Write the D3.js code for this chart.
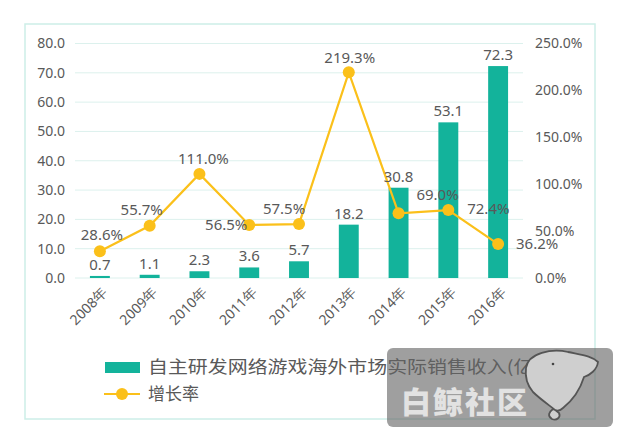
<!DOCTYPE html>
<html><head><meta charset="utf-8">
<script src="https://cdn.jsdelivr.net/npm/d3@7"></script>
<style>
html,body{margin:0;padding:0;background:#fff;}
svg{display:block;}
</style></head>
<body>
<svg id="c" width="623" height="438"></svg>
<script>
const years = ["2008年","2009年","2010年","2011年","2012年","2013年","2014年","2015年","2016年"];
const revenue = [0.7, 1.1, 2.3, 3.6, 5.7, 18.2, 30.8, 53.1, 72.3];
const growth = [28.6, 55.7, 111.0, 56.5, 57.5, 219.3, 69.0, 72.4, 36.2];
const leftTicks = [0,10,20,30,40,50,60,70,80];
const rightTicks = [0,50,100,150,200,250];
const barName = "自主研发网络游戏海外市场实际销售收入(亿美元)";
const lineName = "增长率";
// label offsets (style) for growth labels, relative to points
const gOff = [[2,-16],[-8,-16],[4,-15],[-23,0],[-15,-15],[1,-15],[39,-19],[40,-1],[39,0]];

const svg = d3.select("#c");
const BAR = "#13B39B", LINE = "#FBC01A", TXT = "#595959", GRID = "#DCF1ED";
const font = "'Noto Sans', 'Open Sans', sans-serif";

// frame
svg.append("rect").attr("x",25).attr("y",24).attr("width",570).attr("height",395)
  .attr("fill","none").attr("stroke","#CDEEE8").attr("stroke-width",1.5);

const x = d3.scaleBand().domain(years).range([75,523]).paddingInner(0.6).paddingOuter(0.3);
const yL = d3.scaleLinear().domain([0,80]).range([278,43.5]);
const yR = d3.scaleLinear().domain([0,250]).range([278,43.5]);
const cx = d => x(d) + x.bandwidth()/2;

// grid
svg.append("g").selectAll("line").data(leftTicks).join("line")
  .attr("x1",75).attr("x2",523).attr("y1",d=>yL(d)).attr("y2",d=>yL(d))
  .attr("stroke",GRID).attr("stroke-width",1);

// left axis labels
svg.append("g").selectAll("text").data(leftTicks).join("text")
  .attr("x",65).attr("y",d=>yL(d)).attr("dy","0.35em").attr("text-anchor","end")
  .attr("font-family",font).attr("font-size",14).attr("fill",TXT)
  .text(d=>d.toFixed(1));
// right axis labels
svg.append("g").selectAll("text").data(rightTicks).join("text")
  .attr("x",535).attr("y",d=>yR(d)).attr("dy","0.35em").attr("text-anchor","start")
  .attr("font-family",font).attr("font-size",14).attr("fill",TXT)
  .text(d=>d.toFixed(1)+"%");

// bars
svg.append("g").selectAll("rect").data(revenue).join("rect")
  .attr("x",(d,i)=>x(years[i])).attr("width",x.bandwidth())
  .attr("y",d=>yL(d)).attr("height",d=>yL(0)-yL(d)).attr("fill",BAR);

// x labels
svg.append("g").selectAll("text").data(years).join("text")
  .attr("transform",d=>`translate(${cx(d)+5},${290}) rotate(-45)`)
  .attr("text-anchor","end").attr("dy","0.35em")
  .attr("font-family",font).attr("font-size",14).attr("fill",TXT)
  .text(d=>d);

// line
const line = d3.line().x((d,i)=>cx(years[i])).y(d=>yR(d));
svg.append("path").datum(growth).attr("d",line).attr("fill","none")
  .attr("stroke",LINE).attr("stroke-width",2.2);
svg.append("g").selectAll("circle").data(growth).join("circle")
  .attr("cx",(d,i)=>cx(years[i])).attr("cy",d=>yR(d)).attr("r",6).attr("fill",LINE);

// bar labels
svg.append("g").selectAll("text").data(revenue).join("text")
  .attr("x",(d,i)=>cx(years[i])).attr("y",d=>yL(d)-6).attr("text-anchor","middle")
  .attr("font-family",font).attr("font-size",15).attr("fill",TXT)
  .text(d=>d.toFixed(1));

// growth labels
svg.append("g").selectAll("text").data(growth).join("text")
  .attr("x",(d,i)=>cx(years[i])+gOff[i][0]).attr("y",(d,i)=>yR(d)+gOff[i][1])
  .attr("dy","0.35em").attr("text-anchor","middle")
  .attr("font-family",font).attr("font-size",15).attr("fill",TXT)
  .text(d=>d.toFixed(1)+"%");

// legend
const lg = svg.append("g");
lg.append("rect").attr("x",105).attr("y",362).attr("width",35).attr("height",11).attr("fill",BAR);
lg.append("text").attr("x",148).attr("y",367).attr("dy","0.35em")
  .attr("font-family","'Noto Sans CJK SC', sans-serif").attr("font-size",17).attr("fill",TXT)
  .attr("textLength",432).attr("lengthAdjust","spacingAndGlyphs").text(barName);
lg.append("line").attr("x1",104).attr("x2",140).attr("y1",394).attr("y2",394)
  .attr("stroke",LINE).attr("stroke-width",2.2);
lg.append("circle").attr("cx",122).attr("cy",394).attr("r",6).attr("fill",LINE);
lg.append("text").attr("x",148).attr("y",394).attr("dy","0.35em")
  .attr("font-family","'Noto Sans CJK SC', sans-serif").attr("font-size",17).attr("fill",TXT)
  .text(lineName);

// watermark
const wm = svg.append("g");
wm.append("rect").attr("x",387).attr("y",348).attr("width",226).attr("height",79).attr("rx",6)
  .attr("fill","rgb(100,100,100)").attr("fill-opacity",0.62);
wm.append("text").attr("x",465).attr("y",402).attr("dy","0.35em").attr("text-anchor","middle")
  .attr("font-family","'Noto Sans CJK SC', sans-serif").attr("font-weight",900).attr("font-size",30)
  .attr("fill","#e2e2e2").attr("letter-spacing",2).text("白鲸社区");
wm.append("path")
  .attr("d","M526,368 C528,353 552,348 568,352 C582,355 592,356 598,362 C597,370 590,375 584,377 C580,390 573,400 563,408 C560,411 556,411 553,409 C549,412 547,416 552,419 C557,421 561,417 559,413 C549,405 540,399 533,392 C527,385 525,376 526,368 Z")
  .attr("fill","#cfcfcf").attr("stroke","#555").attr("stroke-width",1.8);
wm.append("circle").attr("cx",553).attr("cy",364).attr("r",1.3).attr("fill","#444");
</script>
</body></html>
